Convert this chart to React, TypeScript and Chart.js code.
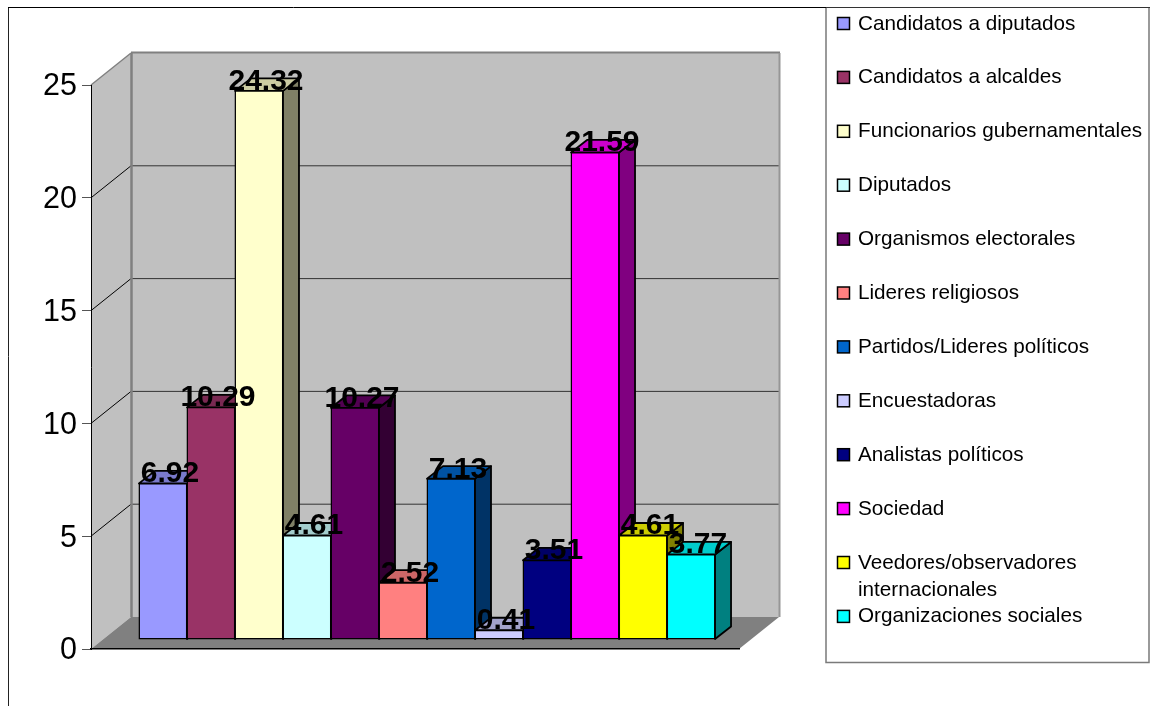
import React, { useEffect, useRef } from "react";
import { Chart, registerables } from "chart.js";

Chart.register(...registerables);

const categories = [""];
const seriesNames = [
  "Candidatos a diputados",
  "Candidatos a alcaldes",
  "Funcionarios gubernamentales",
  "Diputados",
  "Organismos electorales",
  "Lideres religiosos",
  "Partidos/Lideres políticos",
  "Encuestadoras",
  "Analistas políticos",
  "Sociedad",
  "Veedores/observadores internacionales",
  "Organizaciones sociales",
];
const seriesValues = [6.92, 10.29, 24.32, 4.61, 10.27, 2.52, 7.13, 0.41, 3.51, 21.59, 4.61, 3.77];
const seriesColors = [
  "#9999FF", "#993366", "#FFFFCC", "#CCFFFF", "#660066", "#FF8080",
  "#0066CC", "#CCCCFF", "#000080", "#FF00FF", "#FFFF00", "#00FFFF",
];
const legendLines: Record<string, string[]> = {
  "Veedores/observadores internacionales": ["Veedores/observadores", "internacionales"],
};
const yTicks = [0, 5, 10, 15, 20, 25];

const FONT = '"Liberation Sans", Arial, sans-serif';
const WALL_DX = 40, WALL_DY = -32;
const BAR_SHIFT_X = 12, BAR_SHIFT_Y = -9.5;
const BAR_DX = 16, BAR_DY = -12.5;

function shade(hex: string, f: number) {
  const n = parseInt(hex.slice(1), 16);
  const c = [(n >> 16) & 255, (n >> 8) & 255, n & 255].map((v) => Math.round(v * f));
  return `rgb(${c[0]},${c[1]},${c[2]})`;
}

function poly(ctx: CanvasRenderingContext2D, pts: number[][], fill: string | null, stroke?: string, lw = 1) {
  ctx.beginPath();
  pts.forEach((p, i) => (i ? ctx.lineTo(p[0], p[1]) : ctx.moveTo(p[0], p[1])));
  ctx.closePath();
  if (fill) { ctx.fillStyle = fill; ctx.fill(); }
  if (stroke) { ctx.strokeStyle = stroke; ctx.lineWidth = lw; ctx.stroke(); }
}

function line(ctx: CanvasRenderingContext2D, x1: number, y1: number, x2: number, y2: number, color: string, lw = 1) {
  ctx.beginPath();
  ctx.moveTo(x1, y1);
  ctx.lineTo(x2, y2);
  ctx.strokeStyle = color;
  ctx.lineWidth = lw;
  ctx.stroke();
}

const scene3d = {
  id: "scene3d",
  beforeDraw(chart: any) {
    const { ctx, chartArea: a, scales } = chart;
    const y = scales.y;
    ctx.save();
    ctx.fillStyle = "#fff";
    ctx.fillRect(0, 0, chart.width, chart.height);
    // outer frame
    line(ctx, 8.5, 7, 8.5, 706, "#222", 1);
    line(ctx, 8, 7.5, 1150, 7.5, "#000", 1);

    const l = a.left, r = a.right, t = y.getPixelForValue(25), b = y.getPixelForValue(0);
    // back wall
    poly(ctx, [[l + WALL_DX, t + WALL_DY], [r + WALL_DX, t + WALL_DY], [r + WALL_DX, b + WALL_DY], [l + WALL_DX, b + WALL_DY]], "#C0C0C0");
    // left wall
    poly(ctx, [[l, t], [l + WALL_DX, t + WALL_DY], [l + WALL_DX, b + WALL_DY], [l, b]], "#C0C0C0");
    // floor
    poly(ctx, [[l, b], [l + WALL_DX, b + WALL_DY], [r + WALL_DX, b + WALL_DY], [r, b]], "#808080");
    // gridlines
    yTicks.slice(1, -1).forEach((v) => {
      const py = y.getPixelForValue(v);
      line(ctx, l, py, l + WALL_DX, py + WALL_DY, "#000", 1);
      line(ctx, l + WALL_DX, py + WALL_DY, r + WALL_DX, py + WALL_DY, "#333", 1);
    });
    // wall edges
    line(ctx, l, t, l + WALL_DX, t + WALL_DY, "#808080", 1.5);
    line(ctx, l + WALL_DX, t + WALL_DY - 0.5, r + WALL_DX + 1, t + WALL_DY - 0.5, "#808080", 2);
    line(ctx, l + WALL_DX + 0.5, t + WALL_DY, l + WALL_DX + 0.5, b + WALL_DY, "#808080", 2.5);
    line(ctx, r + WALL_DX + 0.5, t + WALL_DY, r + WALL_DX + 0.5, b + WALL_DY, "#969696", 2);
    ctx.restore();
  },
  beforeDatasetsDraw(chart: any) {
    const { ctx } = chart;
    chart.data.datasets.forEach((ds: any, i: number) => {
      const meta = chart.getDatasetMeta(i);
      const el = meta.data[0];
      const x0 = el.x - el.width / 2 + BAR_SHIFT_X;
      const x1 = el.x + el.width / 2 + BAR_SHIFT_X;
      const top = el.y + BAR_SHIFT_Y;
      const bottom = el.base + BAR_SHIFT_Y;
      ctx.save();
      ctx.lineJoin = "round";
      // side and top faces behind the native front face
      poly(ctx, [[x1, top], [x1 + BAR_DX, top + BAR_DY], [x1 + BAR_DX, bottom + BAR_DY], [x1, bottom]], shade(ds.backgroundColor, 0.5), "#000", 1.8);
      poly(ctx, [[x0, top], [x0 + BAR_DX, top + BAR_DY], [x1 + BAR_DX, top + BAR_DY], [x1, top]], shade(ds.backgroundColor, 0.8), "#000", 1.8);
      ctx.translate(BAR_SHIFT_X, BAR_SHIFT_Y);
      meta.controller.draw();
      ctx.restore();
    });
    // value labels
    ctx.save();
    ctx.font = `bold 30px ${FONT}`;
    ctx.fillStyle = "#000";
    ctx.textAlign = "center";
    ctx.textBaseline = "alphabetic";
    chart.data.datasets.forEach((ds: any, i: number) => {
      const el = chart.getDatasetMeta(i).data[0];
      ctx.fillText(ds.data[0].toFixed(2), el.x + BAR_SHIFT_X + 7, el.y + BAR_SHIFT_Y - 1);
    });
    ctx.restore();
    return false;
  },
  afterDraw(chart: any) {
    const { ctx } = chart;
    ctx.save();
    // legend box
    ctx.fillStyle = "#fff";
    ctx.fillRect(826, 7, 324, 656);
    ctx.strokeStyle = "#7a7a7a";
    ctx.lineWidth = 1.5;
    ctx.beginPath();
    ctx.moveTo(826, 8);
    ctx.lineTo(826, 662.5);
    ctx.lineTo(1149, 662.5);
    ctx.lineTo(1149, 8);
    ctx.stroke();
    line(ctx, 826, 7.5, 1150, 7.5, "#333", 1);
    ctx.font = `20.7px ${FONT}`;
    ctx.textAlign = "left";
    ctx.textBaseline = "alphabetic";
    chart.data.datasets.forEach((ds: any, i: number) => {
      const cy = 23.5 + i * 53.9;
      ctx.fillStyle = ds.backgroundColor;
      ctx.fillRect(837.5, cy - 6, 12, 12);
      ctx.strokeStyle = "#000";
      ctx.lineWidth = 1.5;
      ctx.strokeRect(837.5, cy - 6, 12, 12);
      ctx.fillStyle = "#000";
      const lines = legendLines[ds.label] || [ds.label];
      lines.forEach((t: string, k: number) => ctx.fillText(t, 858, cy + 6 + k * 27));
    });
    ctx.restore();
  },
};

export default function App() {
  const ref = useRef<HTMLCanvasElement | null>(null);
  useEffect(() => {
    document.body.style.margin = "0";
    const chart = new Chart(ref.current as HTMLCanvasElement, {
      type: "bar",
      data: {
        labels: categories,
        datasets: seriesNames.map((label, i) => ({
          label,
          data: [seriesValues[i]],
          backgroundColor: seriesColors[i],
          borderColor: "#000",
          borderWidth: 1.5,
          borderSkipped: false,
          inflateAmount: 0.5,
        })),
      },
      options: {
        animation: false,
        responsive: false,
        categoryPercentage: 0.889,
        barPercentage: 1,
        layout: { autoPadding: false, padding: { left: 0, right: 411, top: 85, bottom: 57 } },
        plugins: { legend: { display: false }, tooltip: { enabled: false }, title: { display: false } },
        scales: {
          x: {
            ticks: { display: false },
            grid: { display: false },
            border: { color: "#000", width: 1.5 },
            afterFit(s: any) { s.height = 0; },
          },
          y: {
            min: 0,
            max: 25,
            ticks: { stepSize: 5, color: "#000", font: { family: FONT, size: 30.5 }, padding: 5, labelOffset: 2 },
            grid: { drawOnChartArea: false, drawTicks: true, tickLength: 9, color: "#555", lineWidth: 1 },
            border: { color: "#000", width: 1 },
            afterFit(s: any) { s.width = 91; },
          },
        },
      } as any,
      plugins: [scene3d],
    });
    return () => chart.destroy();
  }, []);
  return (
    <div style={{ position: "fixed", left: 0, top: 0, width: 1150, height: 706 }}>
      <canvas ref={ref} width={1150} height={706} style={{ display: "block" }} />
    </div>
  );
}
